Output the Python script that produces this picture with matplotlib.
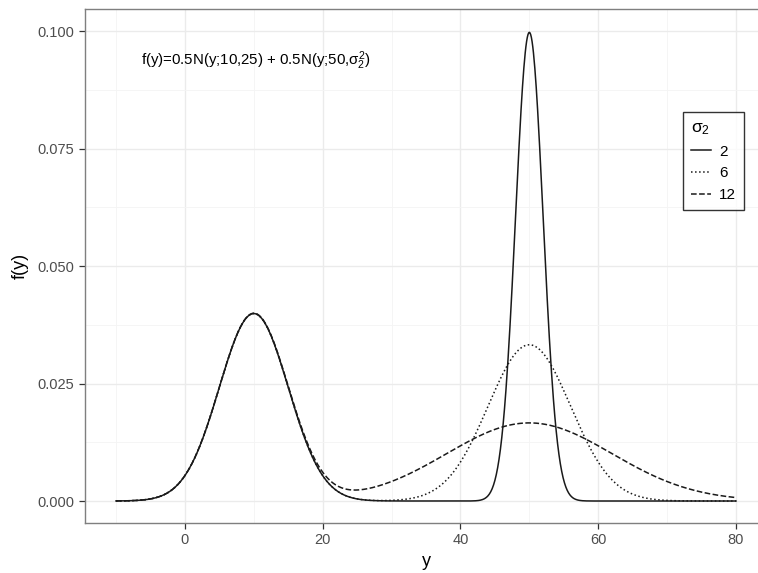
import numpy as np
from matplotlib import pyplot as plt

plt.rcParams['font.family'] = ['Liberation Sans', 'DejaVu Sans']
plt.rcParams['mathtext.fontset'] = 'custom'
plt.rcParams['mathtext.rm'] = 'Liberation Sans'
plt.rcParams['mathtext.it'] = 'Liberation Sans'

# mixture f(y) = 0.5 N(y;10,25) + 0.5 N(y;50,sigma2^2)
weights = [0.5, 0.5]
means = [10, 50]
var1 = 25
sigma2 = [2, 6, 12]
styles = ['-', ':', '--']
y = np.linspace(-10, 80, 901)
xticks = [0, 20, 40, 60, 80]
yticks = [0.000, 0.025, 0.050, 0.075, 0.100]
ylabels = ['0.000', '0.025', '0.050', '0.075', '0.100']

def dnorm(x, m, s):
    return np.exp(-0.5 * ((x - m) / s) ** 2) / (s * np.sqrt(2 * np.pi))

fig = plt.figure(figsize=(7.58, 5.73), dpi=100)
ax = fig.add_axes([85/758, 1-523/573, (767-85)/758, (523-9)/573])

for s, ls in zip(sigma2, styles):
    f = weights[0]*dnorm(y, means[0], np.sqrt(var1)) + weights[1]*dnorm(y, means[1], s)
    ax.plot(y, f, color='#1a1a1a', ls=ls, lw=1.1, label=str(s))

ax.set_xlim(-14.5, 84.5)
ax.set_ylim(-0.00468, 0.1047)
ax.set_xticks(xticks)
ax.set_yticks(yticks)
ax.set_yticklabels(ylabels)
ax.set_xticks([-10, 10, 30, 50, 70], minor=True)
ax.set_yticks([0.0125, 0.0375, 0.0625, 0.0875], minor=True)
ax.grid(True, which='major', color='#ebebeb', lw=1.0)
ax.grid(True, which='minor', color='#f4f4f4', lw=0.6)
ax.set_axisbelow(True)
ax.tick_params(which='major', colors='#333333', labelcolor='#4d4d4d', labelsize=10.5, length=4, width=0.9)
ax.tick_params(which='minor', length=0)
for sp in ax.spines.values():
    sp.set_color('#7f7f7f')
    sp.set_linewidth(1.0)

ax.set_xlabel('y', fontsize=13, labelpad=4)
ax.set_ylabel('f(y)', fontsize=13, labelpad=6)

ax.text(-6.3, 0.0938, r'f(y)=0.5N(y;10,25) + 0.5N(y;50,$\sigma_2^2$)', fontsize=10.8, va='center', ha='left')

leg = ax.legend(title=r'$\sigma_2$', loc='upper left', bbox_to_anchor=((683-85)/682, 1-(112-9)/514),
                borderaxespad=0, frameon=True, fancybox=False, edgecolor='black', handlelength=1.3,
                fontsize=11, title_fontsize=12.5, borderpad=0.55, labelspacing=0.5, handletextpad=0.5)
leg.get_frame().set_linewidth(1.0)
leg._legend_box.align = 'left'

plt.savefig('out.png', dpi=100)
